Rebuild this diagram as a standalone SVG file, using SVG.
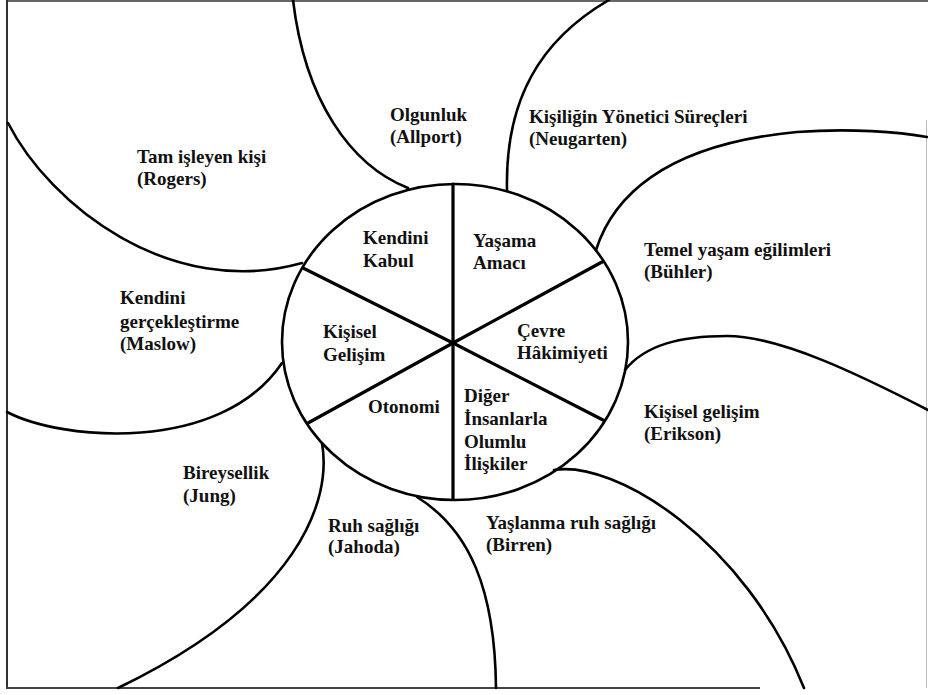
<svg xmlns="http://www.w3.org/2000/svg" width="928" height="695" viewBox="0 0 928 695">
<style>
text{font-family:'Liberation Serif','Times New Roman',Tinos,'DejaVu Serif',serif;font-weight:700;font-size:19px;fill:#111}
.c{fill:none;stroke:#000;stroke-width:2.6;stroke-linecap:round}
.s{fill:none;stroke:#000;stroke-width:3.2;stroke-linecap:round}
.b{fill:none;stroke-width:2}
</style>
<rect x="0" y="0" width="928" height="695" fill="#fff"/>
<g id="frame">
<line class="b" x1="7" y1="1" x2="928" y2="1" stroke="#666"/>
<line class="b" x1="7" y1="0" x2="7" y2="689" stroke="#333"/>
<line class="b" x1="7" y1="688" x2="760" y2="688" stroke="#444"/>
<line x1="926.5" y1="120" x2="926.5" y2="688" stroke="#bbb" stroke-width="1"/>
</g>
<g id="connectors">
<path class="c" d="M293,0 C305,100 350,165 408,188"/>
<path class="c" d="M609,0 C540,40 505,100 507,190"/>
<path class="c" d="M596,250 C612,200 660,145 797,132 C850,128 900,132 927,137"/>
<path class="c" d="M625,370 C645,345 680,336 727,336 C780,336 860,375 928,410"/>
<path class="c" d="M554,470 C615,460 745,540 804,688"/>
<path class="c" d="M417,497 C470,530 495,590 496,688"/>
<path class="c" d="M322,443 C332,500 300,600 118,688"/>
<path class="c" d="M7,412 C60,440 220,455 282,363"/>
<path class="c" d="M8,123 C50,205 170,300 302,263"/>
</g>
<g id="center">
<ellipse class="c" cx="455" cy="342" rx="173" ry="158"/>
<line class="s" x1="453" y1="184" x2="453" y2="499"/>
<line class="s" x1="453" y1="343" x2="303" y2="268"/>
<line class="s" x1="453" y1="343" x2="602" y2="262"/>
<line class="s" x1="453" y1="343" x2="308" y2="423"/>
<line class="s" x1="453" y1="343" x2="603" y2="420"/>
</g>
<g id="seg-kendini-kabul"><text x="363" y="244">Kendini</text><text x="363" y="267">Kabul</text></g>
<g id="seg-yasama-amaci"><text x="473" y="247">Yaşama</text><text x="473" y="269">Amacı</text></g>
<g id="seg-kisisel-gelisim"><text x="323" y="338">Kişisel</text><text x="323" y="361">Gelişim</text></g>
<g id="seg-cevre"><text x="517" y="337">Çevre</text><text x="517" y="359">Hâkimiyeti</text></g>
<g id="seg-otonomi"><text x="368" y="413">Otonomi</text></g>
<g id="seg-iliskiler"><text x="464" y="402">Diğer</text><text x="464" y="425">İnsanlarla</text><text x="464" y="448">Olumlu</text><text x="464" y="470">İlişkiler</text></g>
<g id="node-allport"><text x="390" y="121">Olgunluk</text><text x="390" y="143">(Allport)</text></g>
<g id="node-neugarten"><text x="529" y="123">Kişiliğin Yönetici Süreçleri</text><text x="529" y="145">(Neugarten)</text></g>
<g id="node-rogers"><text x="137" y="163">Tam işleyen kişi</text><text x="137" y="185">(Rogers)</text></g>
<g id="node-buhler"><text x="644" y="256">Temel yaşam eğilimleri</text><text x="644" y="278">(Bühler)</text></g>
<g id="node-maslow"><text x="120" y="304">Kendini</text><text x="120" y="328">gerçekleştirme</text><text x="120" y="350">(Maslow)</text></g>
<g id="node-erikson"><text x="644" y="418">Kişisel gelişim</text><text x="644" y="440">(Erikson)</text></g>
<g id="node-jung"><text x="183" y="479">Bireysellik</text><text x="183" y="502">(Jung)</text></g>
<g id="node-jahoda"><text x="328" y="532">Ruh sağlığı</text><text x="328" y="553">(Jahoda)</text></g>
<g id="node-birren"><text x="486" y="529">Yaşlanma ruh sağlığı</text><text x="486" y="551">(Birren)</text></g>
</svg>
